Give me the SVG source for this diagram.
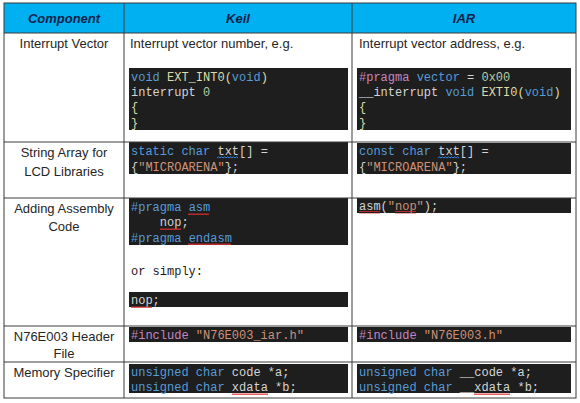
<svg xmlns="http://www.w3.org/2000/svg" width="580" height="403" viewBox="0 0 580 403">
<style>
.bg{fill:#ffffff}
.hdr{fill:#00B0F0}
.ht{font-family:"Liberation Sans",Arial,sans-serif;font-size:13px;font-weight:bold;font-style:italic;fill:#0D1F4A;text-anchor:middle}
.t{font-family:"Liberation Sans",Arial,sans-serif;font-size:13px;fill:#262626}
.tc{font-family:"Liberation Sans",Arial,sans-serif;font-size:13px;fill:#262626;text-anchor:middle}
.code{fill:#1E1E1E}
.m{font-family:"Liberation Mono","DejaVu Sans Mono",monospace;font-size:12px;fill:#D4D4D4;white-space:pre}
.mb{font-family:"Liberation Mono","DejaVu Sans Mono",monospace;font-size:12px;fill:#1a1a1a;white-space:pre}
.k{fill:#569CD6}
.f{fill:#DCDCAA}
.n{fill:#B5CEA8}
.s{fill:#CE9178}
.p{fill:#C586C0}
.grid{stroke:#3a3a3a;stroke-width:1;fill:none}
.sqr{stroke:#E03030;stroke-width:0.9;fill:none}
.sqb{stroke:#3794FF;stroke-width:0.9;fill:none}
</style>
<defs>
<pattern id="wave" width="4" height="3" patternUnits="userSpaceOnUse"><path d="M0,2 L1,0.5 L2,2 L3,0.5 L4,2" stroke="#E03030" stroke-width="0.9" fill="none"/></pattern>
</defs>
<rect class="bg" x="0" y="0" width="580" height="403"/>
<rect class="hdr" x="4" y="3" width="572" height="30"/>

<g id="header">
<text class="ht" x="64" y="23">Component</text>
<text class="ht" x="238" y="23">Keil</text>
<text class="ht" x="464" y="23">IAR</text>
</g>

<g id="row-interrupt-vector">
<text class="tc" x="64" y="48">Interrupt Vector</text>
<text class="t" x="130" y="48">Interrupt vector number, e.g.</text>
<rect class="code" x="129" y="68" width="219" height="62"/>
<text class="m" x="131" y="81"><tspan class="k">void</tspan> <tspan class="f">EXT_INT0(</tspan><tspan class="k">void</tspan><tspan class="f">)</tspan></text>
<text class="m" x="131" y="96">interrupt <tspan class="n">0</tspan></text>
<text class="m" x="131" y="111"><tspan class="f">{</tspan></text>
<text class="m" x="131" y="127"><tspan class="f">}</tspan></text>
<text class="t" x="359" y="48">Interrupt vector address, e.g.</text>
<rect class="code" x="357" y="68" width="214" height="62"/>
<text class="m" x="359" y="81"><tspan class="p">#pragma</tspan> <tspan class="k">vector</tspan> = <tspan class="n">0x00</tspan></text>
<text class="m" x="359" y="96">__interrupt <tspan class="k">void</tspan> <tspan class="f">EXTI0(</tspan><tspan class="k">void</tspan><tspan class="f">)</tspan></text>
<text class="m" x="359" y="111"><tspan class="f">{</tspan></text>
<text class="m" x="359" y="127"><tspan class="f">}</tspan></text>
</g>

<g id="row-string-array">
<text class="tc" x="64" y="157">String Array for</text>
<text class="tc" x="64" y="176">LCD Libraries</text>
<rect class="code" x="129" y="142" width="219" height="32"/>
<text class="m" x="131" y="155"><tspan class="k">static</tspan> <tspan class="k">char</tspan> txt[] =</text>
<text class="m" x="131" y="171">{<tspan class="s">"MICROARENA"</tspan>};</text>
<path class="sqb" d="M217,158 l1.5,-1.2 l1.5,1.2 l1.5,-1.2 l1.5,1.2 l1.5,-1.2 l1.5,1.2 l1.5,-1.2 l1.5,1.2 l1.5,-1.2 l1.5,1.2 l1.5,-1.2 l1.5,1.2 l1.5,-1.2 l1.5,1.2"/>
<rect class="code" x="357" y="143" width="214" height="31"/>
<text class="m" x="359" y="155"><tspan class="k">const</tspan> <tspan class="k">char</tspan> txt[] =</text>
<text class="m" x="359" y="171">{<tspan class="s">"MICROARENA"</tspan>};</text>
<path class="sqb" d="M438,158 l1.5,-1.2 l1.5,1.2 l1.5,-1.2 l1.5,1.2 l1.5,-1.2 l1.5,1.2 l1.5,-1.2 l1.5,1.2 l1.5,-1.2 l1.5,1.2 l1.5,-1.2 l1.5,1.2 l1.5,-1.2 l1.5,1.2"/>
</g>

<g id="row-assembly">
<text class="tc" x="64" y="213">Adding Assembly</text>
<text class="tc" x="64" y="231">Code</text>
<rect class="code" x="129" y="198" width="219" height="47"/>
<text class="m" x="131" y="211"><tspan class="k">#pragma</tspan> <tspan class="k">asm</tspan></text>
<text class="m" x="131" y="226">    nop;</text>
<text class="m" x="131" y="242"><tspan class="k">#pragma</tspan> <tspan class="k">endasm</tspan></text>
<rect x="188" y="212" width="21" height="3" fill="url(#wave)"/>
<rect x="160" y="227" width="21" height="3" fill="url(#wave)"/>
<rect x="188" y="243" width="43" height="3" fill="url(#wave)"/>
<text class="mb" x="131" y="275">or simply:</text>
<rect class="code" x="129" y="292" width="219" height="15"/>
<text class="m" x="131" y="304">nop;</text>
<rect x="131" y="305" width="21" height="3" fill="url(#wave)"/>
<rect class="code" x="357" y="198" width="214" height="15"/>
<text class="m" x="359" y="210">asm(<tspan class="s">"nop"</tspan>);</text>
<rect x="359" y="211" width="21" height="3" fill="url(#wave)"/>
<rect x="395" y="211" width="21" height="3" fill="url(#wave)"/>
</g>

<g id="row-header-file">
<text class="tc" x="64" y="341">N76E003 Header</text>
<text class="tc" x="64" y="358">File</text>
<rect class="code" x="129" y="327" width="219" height="15"/>
<text class="m" x="131" y="339"><tspan class="p">#include</tspan> <tspan class="s">"N76E003_iar.h"</tspan></text>
<rect class="code" x="357" y="327" width="214" height="15"/>
<text class="m" x="359" y="339"><tspan class="p">#include</tspan> <tspan class="s">"N76E003.h"</tspan></text>
</g>

<g id="row-memory-specifier">
<text class="tc" x="64" y="377">Memory Specifier</text>
<rect class="code" x="129" y="364" width="219" height="29"/>
<text class="m" x="131" y="376"><tspan class="k">unsigned</tspan> <tspan class="k">char</tspan> code *a;</text>
<text class="m" x="131" y="391"><tspan class="k">unsigned</tspan> <tspan class="k">char</tspan> xdata *b;</text>
<rect x="232" y="392" width="36" height="3" fill="url(#wave)"/>
<rect class="code" x="357" y="364" width="214" height="29"/>
<text class="m" x="359" y="376"><tspan class="k">unsigned</tspan> <tspan class="k">char</tspan> __code *a;</text>
<text class="m" x="359" y="391"><tspan class="k">unsigned</tspan> <tspan class="k">char</tspan> __xdata *b;</text>
<rect x="474" y="392" width="36" height="3" fill="url(#wave)"/>
</g>

<g id="connectors">
<rect class="grid" x="4" y="3" width="572" height="395"/>
<line class="grid" x1="4" y1="33" x2="576" y2="33"/>
<line class="grid" x1="4" y1="142" x2="576" y2="142"/>
<line class="grid" x1="4" y1="198" x2="576" y2="198"/>
<line class="grid" x1="4" y1="326" x2="576" y2="326"/>
<line class="grid" x1="4" y1="362" x2="576" y2="362"/>
<line class="grid" x1="124" y1="3" x2="124" y2="398"/>
<line class="grid" x1="352" y1="3" x2="352" y2="398"/>
</g>
</svg>
